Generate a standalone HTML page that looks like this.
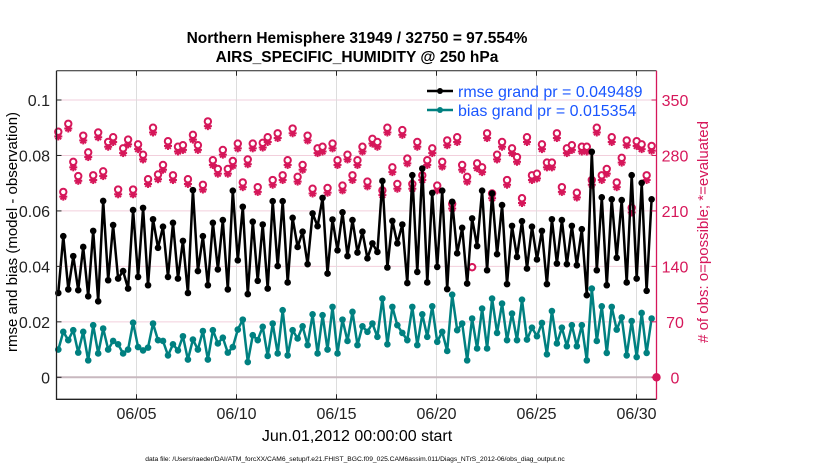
<!DOCTYPE html>
<html><head><meta charset="utf-8">
<style>
html,body{margin:0;padding:0;background:#fff;}
svg{display:block;font-family:"Liberation Sans",Arial,sans-serif;}
</style></head>
<body>
<svg id="chart" width="830" height="470" viewBox="0 0 830 470" xmlns="http://www.w3.org/2000/svg">
<text x="357" y="43" text-anchor="middle" font-size="15.5" font-weight="bold">Northern Hemisphere 31949 / 32750 = 97.554%</text>
<text x="357" y="62" text-anchor="middle" font-size="15.5" font-weight="bold">AIRS_SPECIFIC_HUMIDITY @ 250 hPa</text>
<g id="grid"></g>
<g id="series"></g>
<g id="axes"></g>
<g>
  <line x1="427" y1="91" x2="453" y2="91" stroke="#000" stroke-width="2.5"/>
  <circle cx="440" cy="91" r="3" fill="#000"/>
  <text x="458" y="97" font-size="16" fill="#1a56ff">rmse grand pr = 0.049489</text>
  <line x1="427" y1="110" x2="453" y2="110" stroke="#008080" stroke-width="2.5"/>
  <circle cx="440" cy="110" r="3" fill="#008080"/>
  <text x="458" y="116" font-size="16" fill="#1a56ff">bias grand pr = 0.015354</text>
</g>
<text transform="translate(17,232) rotate(-90)" text-anchor="middle" font-size="15">rmse and bias (model - observation)</text>
<text transform="translate(708,232) rotate(-90)" text-anchor="middle" font-size="15" fill="#d6175a"># of obs: o=possible; *=evaluated</text>
<text x="357" y="441" text-anchor="middle" font-size="16">Jun.01,2012 00:00:00 start</text>
<text x="355" y="461" text-anchor="middle" font-size="6.7">data file: /Users/raeder/DAI/ATM_forcXX/CAM6_setup/f.e21.FHIST_BGC.f09_025.CAM6assim.011/Diags_NTrS_2012-06/obs_diag_output.nc</text>
</svg>
<script>
const rmse = [.0304,.0509,.0317,.0437,.0314,.047,.0292,.0528,.0274,.0636,.035,.0549,.0356,.0383,.032,.0603,.0362,.0611,.0332,.057,.0467,.0543,.0362,.0557,.0356,.0492,.0304,.0675,.0383,.0509,.0332,.0557,
.0389,.0567,.0317,.0673,.0422,.0615,.03,.0561,.0348,.0551,.032,.0635,.0401,.0635,.0342,.0575,.047,.0525,.0408,.0591,.0545,.0647,.0374,.0569,.0458,.0595,.0437,.0567,.045,.0525,.0429,
.0483,.0452,.0708,.0396,.0564,.0483,.0551,.034,.0729,.038,.0753,.0342,.0665,.0398,.0673,.0318,.0633,.0447,.0539,.0338,.0573,.0473,.0673,.0386,.0663,.0444,.0621,.0336,.0546,.0434,.0563,
.0392,.0543,.0425,.0528,.0336,.057,.041,.0567,.0408,.0546,.0404,.0534,.0296,.0813,.0386,.0649,.0332,.0642,.0431,.0639,.0342,.0729,.0356,.0701,.0312,.0642];
const bias = [.01,.0164,.0134,.017,.0089,.0164,.0061,.0188,.0086,.0176,.01,.0131,.0119,.0086,.01,.0197,.0109,.0097,.0107,.0194,.0134,.0131,.0079,.0119,.0097,.0148,.0064,.0136,.01,.0167,.0064,.017,
.0122,.0143,.0089,.0109,.0172,.0208,.0055,.0152,.0134,.0182,.0077,.0194,.0086,.0242,.0079,.017,.014,.0184,.0116,.0227,.0086,.0224,.01,.0254,.0086,.0208,.0131,.0236,.0116,.0184,.0164,
.0194,.0146,.0284,.0119,.0254,.0188,.016,.0134,.0254,.0116,.0227,.0146,.0256,.0128,.0164,.0095,.0298,.017,.0194,.0061,.0212,.0104,.0248,.0104,.0284,.016,.0266,.0134,.023,.0134,.028,
.0136,.0179,.0148,.0196,.0083,.0239,.0122,.0179,.0112,.0188,.0112,.0188,.0061,.032,.0131,.0256,.0088,.0254,.0172,.0216,.0079,.0203,.0073,.0232,.0088,.0212];
const evaluated = [304,228,314,265,248,299,278,249,303,254,291,297,231,283,294,231,288,275,244,309,250,262,292,249,285,287,244,300,287,237,317,268,
257,281,257,267,289,240,269,289,234,290,297,243,302,249,268,308,247,262,299,232,283,285,233,289,268,236,275,249,268,285,241,
295,291,230,309,259,238,306,270,238,291,249,268,283,236,266,293,213,297,262,247,139,264,259,302,226,275,291,243,283,272,220,
297,249,251,288,265,265,302,234,283,287,227,285,285,243,309,249,257,297,240,271,293,208,292,288,249,286,0];
const possible = [310,234,320,272,254,305,284,255,309,260,297,303,237,289,300,237,294,281,250,315,256,268,298,255,291,293,250,306,293,243,323,274,
263,287,263,273,295,246,275,295,240,296,303,249,308,255,274,314,253,268,305,238,289,291,239,295,274,242,281,255,274,291,247,
301,297,236,315,265,244,312,276,244,297,255,274,289,242,272,299,219,303,268,253,139,270,265,308,232,281,297,249,289,278,226,
303,255,257,294,271,271,308,240,289,293,233,291,291,249,315,255,263,303,246,277,299,214,298,294,255,292,0];
const leftTicks = [0,0.02,0.04,0.06,0.08,0.1];
const leftTickLabels = ["0","0.02","0.04","0.06","0.08","0.1"];
const rightTicks = [0,70,140,210,280,350];
const dateTicks = [5,10,15,20,25,30];
const dateLabels = ["06/05","06/10","06/15","06/20","06/25","06/30"];

const NS="http://www.w3.org/2000/svg";
const X0=56.5,X1=656.5,Y0=399.3,Y1=70.7;
const xScale=d=>X0+(d-1)*(X1-X0)/30;
const yL=v=>377.3-v*2773;
const yR=c=>377.3-c*277.3/350;
const tOf=i=>1.09+0.2493*i;
function mk(tag,attrs,parent){const e=document.createElementNS(NS,tag);for(const k in attrs)e.setAttribute(k,attrs[k]);parent.appendChild(e);return e;}
const gridG=document.getElementById('grid'),seriesG=document.getElementById('series'),axesG=document.getElementById('axes');
const CR="#d6175a",TE="#008080";

leftTicks.forEach((v,i)=>{ if(v===0)return;
  const l=mk('line',{x1:X0,x2:X1,y1:yL(v),y2:yL(v),stroke:'#f2cfdc','stroke-width':1},gridG);
  
  
});
dateTicks.forEach(d=>{
  const l=mk('line',{x1:xScale(d),x2:xScale(d),y1:Y1,y2:Y0,stroke:'#dddddd','stroke-width':1},gridG);
  
  
});
const zl=mk('line',{x1:X0,x2:X1,y1:yL(0),y2:yL(0),stroke:'#c8b8bf','stroke-width':2},gridG);



function star(cx,cy,g){const r=4;for(let k=0;k<4;k++){const a=k*Math.PI/4;mk('line',{x1:cx-r*Math.cos(a),y1:cy-r*Math.sin(a),x2:cx+r*Math.cos(a),y2:cy+r*Math.sin(a),stroke:CR,'stroke-width':2},g);}}
evaluated.forEach((c,i)=>{
  const t=i<rmse.length?tOf(i):31;
  const g=mk('g',{},seriesG);
  
  
  const x=xScale(t);
  star(x,yR(c),g);
  mk('circle',{cx:x,cy:yR(possible[i]),r:3.2,fill:'#fff',stroke:CR,'stroke-width':2},g);
  if(c===0){mk('circle',{cx:x,cy:yR(0),r:4,fill:CR},g);}
});

function drawLine(vals,color,name){
  const pts=vals.map((v,i)=>xScale(tOf(i)).toFixed(1)+','+yL(v).toFixed(1)).join(' ');
  const pl=mk('polyline',{points:pts,fill:'none',stroke:color,'stroke-width':2.5,'stroke-linejoin':'round'},seriesG);
  
  
  vals.forEach((v,i)=>{
    const c=mk('circle',{cx:xScale(tOf(i)),cy:yL(v),r:3.3,fill:color},seriesG);
    
    
  });
}
drawLine(bias,TE,'bias');
drawLine(rmse,'#000','rmse');

const fr=mk('path',{d:`M${X0},${Y1}V${Y0}H${X1}`,fill:'none',stroke:'#222','stroke-width':1.3},axesG);


const topAxis=mk('line',{x1:X0,x2:X1,y1:Y1,y2:Y1,stroke:'#222','stroke-width':1},axesG);


const rightAxis=mk('line',{x1:X1,x2:X1,y1:Y1,y2:Y0,stroke:CR,'stroke-width':1.3},axesG);


leftTicks.forEach((v,i)=>{
  mk('line',{x1:X0,x2:X0+5,y1:yL(v),y2:yL(v),stroke:'#222'},axesG);
  const t=mk('text',{x:50,y:yL(v)+6,'text-anchor':'end','font-size':16,fill:'#222'},axesG);
  t.textContent=leftTickLabels[i];
  
  
});
rightTicks.forEach(c=>{
  mk('line',{x1:X1-5,x2:X1,y1:yR(c),y2:yR(c),stroke:CR},axesG);
  const t=mk('text',{x:675,y:yR(c)+6,'text-anchor':'middle','font-size':16,fill:CR},axesG);
  t.textContent=String(c);
  
  
});
dateTicks.forEach((d,i)=>{
  mk('line',{x1:xScale(d),x2:xScale(d),y1:Y0,y2:Y0-5,stroke:'#222'},axesG);
  mk('line',{x1:xScale(d),x2:xScale(d),y1:Y1,y2:Y1+5,stroke:'#222'},axesG);
  const t=mk('text',{x:xScale(d),y:419,'text-anchor':'middle','font-size':16,fill:'#222'},axesG);
  t.textContent=dateLabels[i];
  
  
});
</script>
</body></html>
